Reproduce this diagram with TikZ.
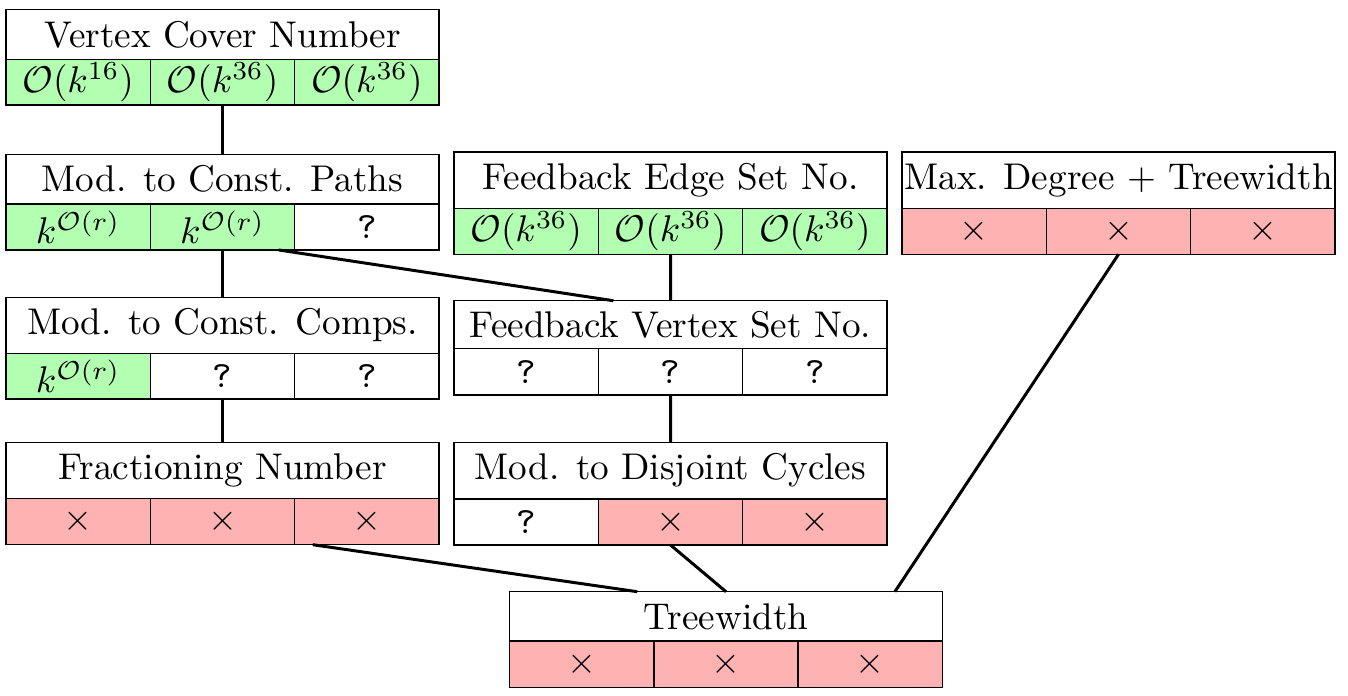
\documentclass[tikz,border=0pt]{standalone}
\usetikzlibrary{calc}
\definecolor{yesg}{rgb}{0.7,1,0.7}
\definecolor{nor}{rgb}{1,0.7,0.7}
\def\U{0.269pt}
\tikzset{
  boxst/.style={draw, line width=0.4pt, inner sep=0pt, outer sep=0pt},
  yescell/.style={boxst, fill=yesg},
  nocell/.style={boxst, fill=nor},
  unkcell/.style={boxst},
  link/.style={line width=0.8pt},
}
\newcommand\cellnode[6]{\node[#1, anchor=north west, minimum width=144.333*\U, minimum height={(#5-#4)*\U}] (#2) at (#3,#4) {#6};}
\newcommand\titlenode[5]{\node[boxst, anchor=north west, minimum width=433*\U, minimum height={(#4-#3)*\U}] (#1) at (#2,#3) {#5};}
\newcommand\Q{\texttt{?}}
\begin{document}
\begin{tikzpicture}[x=\U, y=-\U]
\useasboundingbox (0,0) rectangle (1348,696);
% Vertex Cover Number
\titlenode{vc}{6}{9.5}{59.5}{Vertex Cover Number}
\cellnode{yescell}{vc-1}{6}{59.5}{105}{$\mathcal{O}(k^{16})$}
\cellnode{yescell}{vc-2}{150.333}{59.5}{105}{$\mathcal{O}(k^{36})$}
\cellnode{yescell}{vc-3}{294.667}{59.5}{105}{$\mathcal{O}(k^{36})$}
% Mod. to Const. Paths
\titlenode{mcp}{6}{154.5}{204}{Mod. to Const. Paths}
\cellnode{yescell}{mcp-1}{6}{204}{250}{$k^{\mathcal{O}(r)}$}
\cellnode{yescell}{mcp-2}{150.333}{204}{250}{$k^{\mathcal{O}(r)}$}
\cellnode{unkcell}{mcp-3}{294.667}{204}{250}{\Q}
% Mod. to Const. Comps.
\titlenode{mcc}{6}{297.5}{353.5}{Mod. to Const. Comps.}
\cellnode{yescell}{mcc-1}{6}{353.5}{399}{$k^{\mathcal{O}(r)}$}
\cellnode{unkcell}{mcc-2}{150.333}{353.5}{399}{\Q}
\cellnode{unkcell}{mcc-3}{294.667}{353.5}{399}{\Q}
% Fractioning Number
\titlenode{frac}{6}{442.5}{498.7}{Fractioning Number}
\cellnode{nocell}{frac-1}{6}{498.7}{544.7}{$\times$}
\cellnode{nocell}{frac-2}{150.333}{498.7}{544.7}{$\times$}
\cellnode{nocell}{frac-3}{294.667}{498.7}{544.7}{$\times$}
% Feedback Edge Set No.
\titlenode{fes}{454}{152}{208.3}{Feedback Edge Set No.}
\cellnode{yescell}{fes-1}{454}{208.3}{254.3}{$\mathcal{O}(k^{36})$}
\cellnode{yescell}{fes-2}{598.333}{208.3}{254.3}{$\mathcal{O}(k^{36})$}
\cellnode{yescell}{fes-3}{742.667}{208.3}{254.3}{$\mathcal{O}(k^{36})$}
% Feedback Vertex Set No.
\titlenode{fvs}{454}{300.7}{348.3}{Feedback Vertex Set No.}
\cellnode{unkcell}{fvs-1}{454}{348.3}{395}{\Q}
\cellnode{unkcell}{fvs-2}{598.333}{348.3}{395}{\Q}
\cellnode{unkcell}{fvs-3}{742.667}{348.3}{395}{\Q}
% Mod. to Disjoint Cycles
\titlenode{mdc}{454}{442.3}{499}{Mod. to Disjoint Cycles}
\cellnode{unkcell}{mdc-1}{454}{499}{545}{\Q}
\cellnode{nocell}{mdc-2}{598.333}{499}{545}{$\times$}
\cellnode{nocell}{mdc-3}{742.667}{499}{545}{$\times$}
% Max. Degree + Treewidth
\titlenode{mdt}{902}{152}{208.3}{Max. Degree + Treewidth}
\cellnode{nocell}{mdt-1}{902}{208.3}{254.3}{$\times$}
\cellnode{nocell}{mdt-2}{1046.333}{208.3}{254.3}{$\times$}
\cellnode{nocell}{mdt-3}{1190.667}{208.3}{254.3}{$\times$}
% Treewidth
\titlenode{tw}{509.5}{591.7}{641}{Treewidth}
\cellnode{nocell}{tw-1}{509.5}{641}{687.3}{$\times$}
\cellnode{nocell}{tw-2}{653.833}{641}{687.3}{$\times$}
\cellnode{nocell}{tw-3}{798.167}{641}{687.3}{$\times$}
% connectors
\draw[link] (vc-2.south) -- (mcp.north);
\draw[link] (mcp-2.south) -- (mcc.north);
\draw[link] ($(mcp-2.south)!0.78!(mcp-2.south east)$) -- ($(fvs.north)!0.264!(fvs.north west)$);
\draw[link] (mcc-2.south) -- (frac.north);
\draw[link] ($(frac-3.south west)!0.125!(frac-3.south east)$) -- ($(tw.north)!0.41!(tw.north west)$);
\draw[link] (fes-2.south) -- (fvs.north);
\draw[link] (fvs-2.south) -- (mdc.north);
\draw[link] (mdc-2.south) -- (tw.north);
\draw[link] (mdt-2.south) -- ($(tw.north)!0.78!(tw.north east)$);
\end{tikzpicture}
\end{document}
